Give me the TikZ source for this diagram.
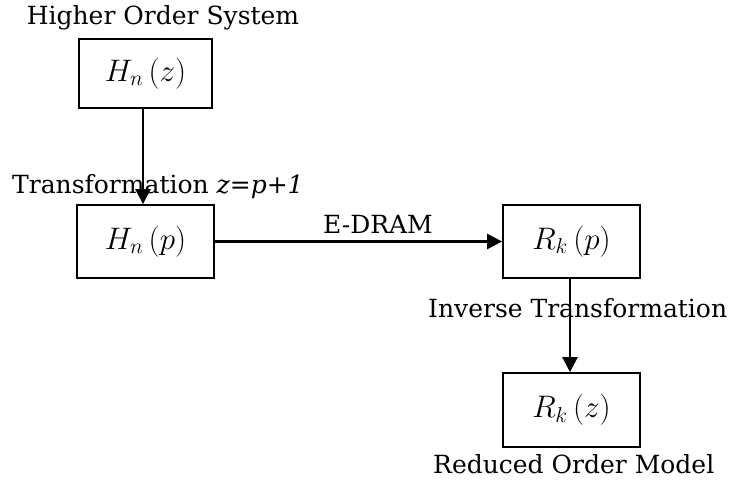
\documentclass[tikz,border=0pt]{standalone}
\usepackage{fontspec}
\usepackage{graphicx}
\setmainfont{DejaVu Serif}
\usetikzlibrary{arrows.meta}
\tikzset{
  block/.style={draw, line width=1.8pt, minimum width=#1, inner sep=0pt},
  flow/.style={line width=2.6pt, -{Triangle[width=15pt,length=15pt]}},
  caption/.style={inner sep=0pt, font=\fontsize{25}{30}\selectfont},
  mathlbl/.style={font=\fontsize{20.74}{25}\selectfont}
}
% transfer-function label: symbol, subscript, variable
\newcommand{\tfun}[3]{\scalebox{1.5}{$#1_{#2}\,\bigl(#3\bigr)$}}
\begin{document}
\begin{tikzpicture}[x=1pt,y=1pt]
  \useasboundingbox (0,0) rectangle (734,483);
  % blocks
  \node[block=133pt, minimum height=69pt, mathlbl] (hz) at (145.5,409.5) {\tfun{H}{n}{z}};
  \node[block=137pt, minimum height=73pt, mathlbl] (hp) at (145.5,241.5) {\tfun{H}{n}{p}};
  \node[block=137pt, minimum height=73pt, mathlbl] (rp) at (571.5,241.5) {\tfun{R}{k}{p}};
  \node[block=137pt, minimum height=74pt, mathlbl] (rz) at (571.5,73) {\tfun{R}{k}{z}};
  % captions
  \node[caption, anchor=base] (top) at (163,458) {Higher Order System};
  \node[caption, anchor=base west] (tr) at (12,290) {Transformation \textit{z=p+1}};
  \node[caption, anchor=base] (ed) at (378,250) {E-DRAM};
  \node[caption, anchor=base west] (inv) at (428,166) {Inverse Transformation};
  \node[caption, anchor=base west] (red) at (433,10) {Reduced Order Model};
  % connectors
  \draw[flow] (hz.south -| 143,0) -- (hp.north -| 143,0);
  \draw[flow] (hp.east) -- (rp.west);
  \draw[flow] (rp.south -| 570,0) -- (rz.north -| 570,0);
\end{tikzpicture}
\end{document}
